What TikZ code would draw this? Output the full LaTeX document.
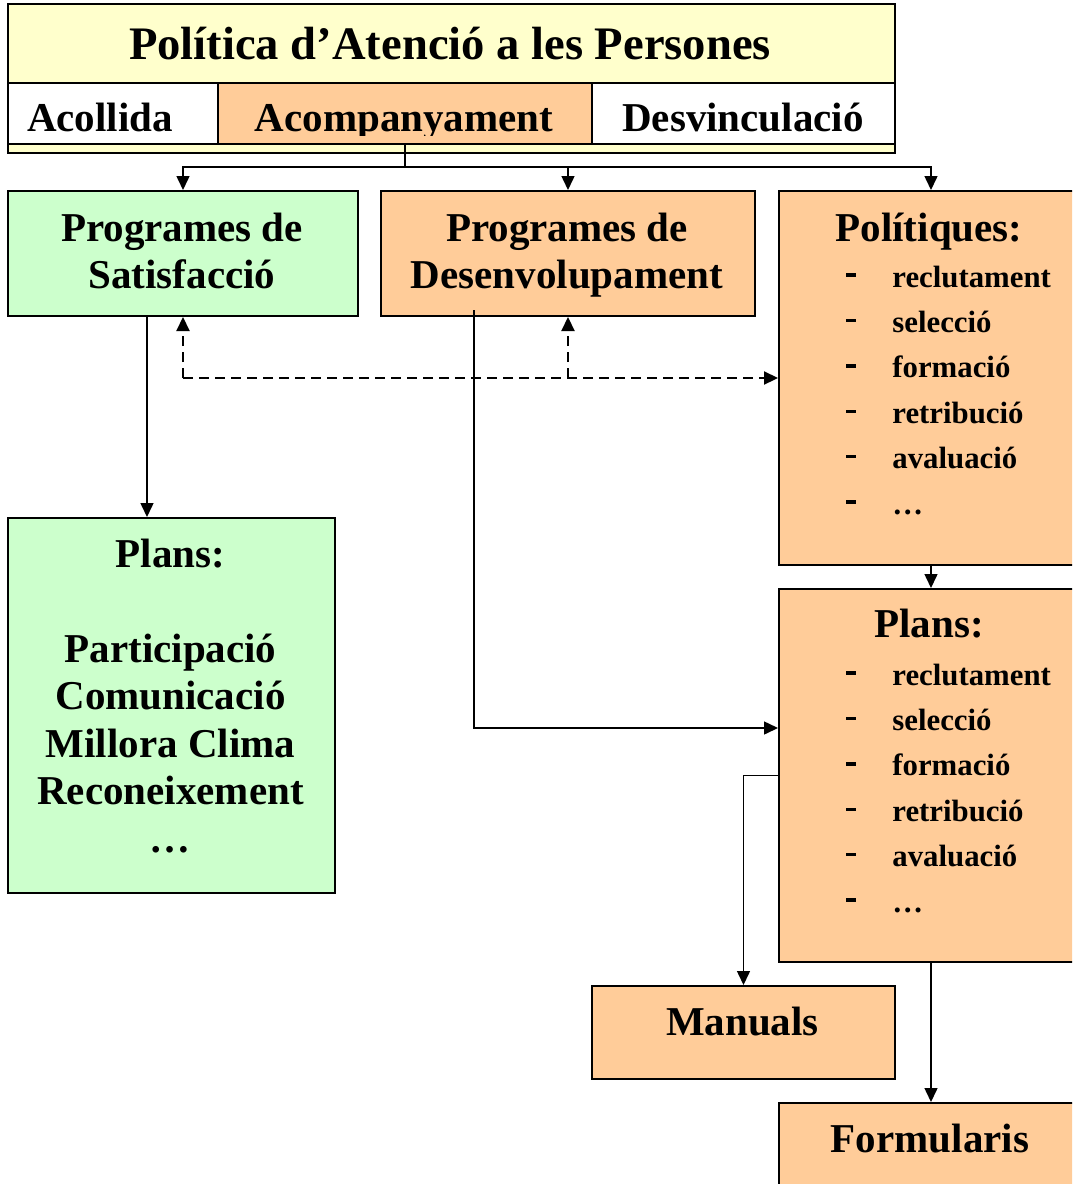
\documentclass[tikz,border=0pt]{standalone}
\usepackage{fontspec}
\setmainfont{Liberation Serif}
\usepackage{xcolor}
\usetikzlibrary{positioning,calc,arrows.meta}

\definecolor{peach}{HTML}{FFCC99}
\definecolor{mint}{HTML}{CCFFCC}
\definecolor{cream}{HTML}{FFFFCC}

\newcommand{\titlefont}{\fontsize{23.3}{28}\selectfont\bfseries}
\newcommand{\boxfont}{\fontsize{20.5}{23.75}\selectfont\bfseries}
\newcommand{\itemsfont}{\fontsize{15.4}{22.7}\selectfont\bfseries}
\newcommand{\itemdash}{\rule[5.1pt]{5pt}{1.7pt}}

\begin{document}
\begin{tikzpicture}[
    x=0.5pt, y=-0.5pt,
    box/.style={rectangle, draw, line width=1pt, anchor=north west, inner sep=0pt},
    txt/.style={inner sep=0pt, anchor=base, font=\boxfont},
    items/.style={inner sep=0pt, anchor=base west, font=\itemsfont},
    line/.style={line width=0.75pt},
    arrow/.style={-{Triangle[length=7pt,width=6.5pt]}, line width=0.75pt},
    dasharrow/.style={arrow, line width=1.1pt, dash pattern=on 5pt off 3pt}
]
  \clip (0,0) rectangle (1072,1184);

  % Header
  \node[box, fill=cream, minimum width=443.5pt, minimum height=74.5pt] (head) at (7,3) {};
  \node[txt, font=\titlefont] (title) at (450,59) {Política d’Atenció a les Persones};
  \node[box, fill=white, minimum width=105pt, minimum height=30.5pt] (acoll) at (7,82) {};
  \node[box, fill=peach, minimum width=187pt, minimum height=30.5pt] (acomp) at (217,82) {};
  \node[box, fill=white, minimum width=151.5pt, minimum height=30.5pt] (desv) at (591,82) {};
  \begin{scope}
    \clip (acoll.north west) rectangle ($(desv.south east)+(0,-9.5)$);
    \node[txt] (acolltxt) at (100,131) {Acollida};
    \node[txt] (acomptxt) at (404,131) {Acompanyament};
    \node[txt] (desvtxt) at (743,131) {Desvinculació};
  \end{scope}

  % Programes
  \node[box, fill=mint, minimum width=175pt, minimum height=62.5pt] (sat) at (7,190) {};
  \node[txt] (sattxt) at (182,241) {\begin{tabular}[t]{@{}c@{}}Programes de\\Satisfacció\end{tabular}};
  \node[box, fill=peach, minimum width=187pt, minimum height=62.5pt] (des) at (380,190) {};
  \node[txt] (destxt) at (567,241) {\begin{tabular}[t]{@{}c@{}}Programes de\\Desenvolupament\end{tabular}};

  % Politiques
  \node[box, fill=peach, minimum width=152pt, minimum height=187pt] (pol) at (778,190) {};
  \node[txt] (poltitle) at (929,241) {Polítiques:};
  \node[items] (pollist) at (846,287) {\begin{tabular}[t]{@{}l@{\hspace{18pt}}l@{}}
    \itemdash & reclutament\\ \itemdash & selecció\\ \itemdash & formació\\
    \itemdash & retribució\\ \itemdash & avaluació\\ \itemdash & …
  \end{tabular}};

  % Plans (right)
  \node[box, fill=peach, minimum width=152pt, minimum height=186.5pt] (plansR) at (778,588) {};
  \node[txt] (plansRtitle) at (929,637) {Plans:};
  \node[items] (plansRlist) at (846,685) {\begin{tabular}[t]{@{}l@{\hspace{18pt}}l@{}}
    \itemdash & reclutament\\ \itemdash & selecció\\ \itemdash & formació\\
    \itemdash & retribució\\ \itemdash & avaluació\\ \itemdash & …
  \end{tabular}};

  % Plans (left)
  \node[box, fill=mint, minimum width=163.5pt, minimum height=187.5pt] (plansL) at (7,517) {};
  \node[txt] (plansLtxt) at (170.5,567) {\begin{tabular}[t]{@{}c@{}}
    Plans:\\ \\ Participació\\ Comunicació\\ Millora Clima\\ Reconeixement\\ …
  \end{tabular}};

  % Manuals, Formularis
  \node[box, fill=peach, minimum width=151.5pt, minimum height=46.5pt] (man) at (591,985) {};
  \node[txt] (mantxt) at (742.5,1035) {Manuals};
  \node[box, fill=peach, minimum width=152pt, minimum height=50pt] (form) at (778,1102) {};
  \node[txt] (formtxt) at (930,1152) {Formularis};

  % Arrows
  \coordinate (split) at (404,167);
  \draw[line] (acomp.south) -- (acomp.south |- split);
  \draw[arrow] (acomp.south |- split) -| (sat.north);
  \draw[arrow] (acomp.south |- split) -| (des.north);
  \draw[arrow] (acomp.south |- split) -| (pol.north);

  \coordinate (satout) at ($(sat.south west)+(140,0)$);
  \draw[arrow] (satout) -- (satout |- plansL.north);

  \coordinate (dashjoin) at (sat.south |- pol.west);
  \draw[dasharrow] (dashjoin) -- (sat.south);
  \draw[dasharrow] (dashjoin) -- (pol.west);
  \draw[dasharrow] (des.south |- pol.west) -- (des.south);

  \coordinate (desout) at ($(des.south west)+(94,-7)$);
  \coordinate (plansin) at ($(plansR.north west)+(0,140)$);
  \draw[arrow] (desout) |- (plansin);

  \draw[arrow] (pol.south) -- (plansR.north);
  \draw[arrow] (plansR.west) -| (man.north);
  \draw[arrow] (plansR.south) -- (form.north);
\end{tikzpicture}
\end{document}
